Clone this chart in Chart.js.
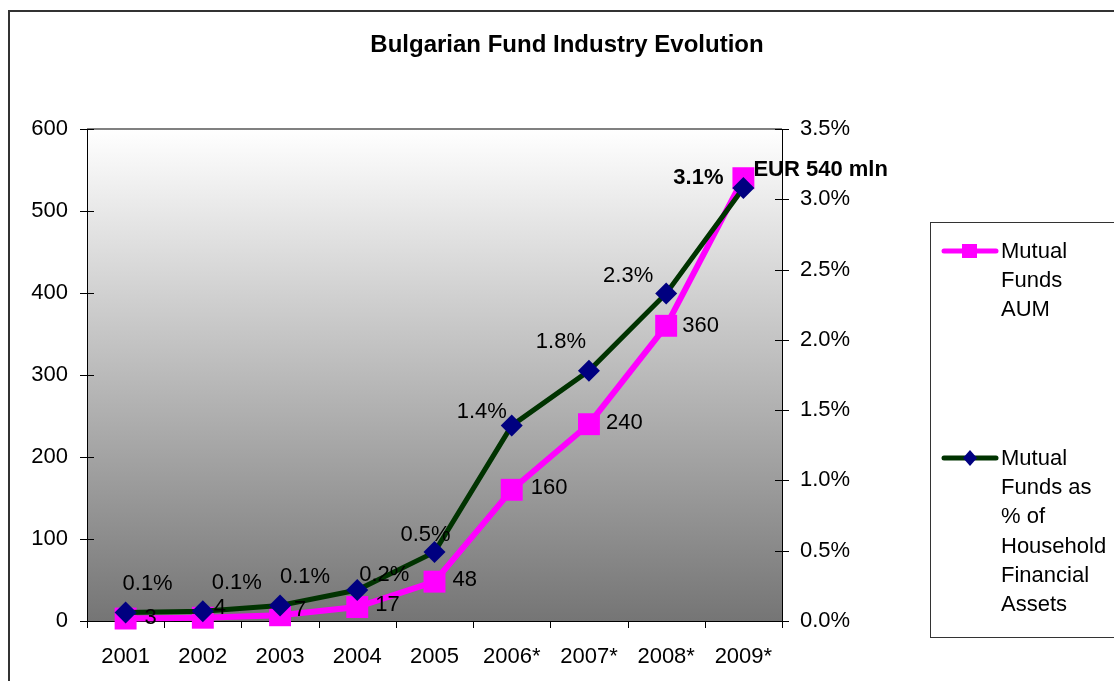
<!DOCTYPE html>
<html>
<head>
<meta charset="utf-8">
<script src="https://cdn.jsdelivr.net/npm/chart.js@4"></script>
<style>
  body { margin: 0; background: #fff; }
</style>
</head>
<body>
<canvas id="chart" width="1114" height="681"></canvas>
<script>
// Datos del gráfico
const years = ['2001', '2002', '2003', '2004', '2005', '2006*', '2007*', '2008*', '2009*'];
const aum = [3, 4, 7, 17, 48, 160, 240, 360, 540];            // EUR mln
const pctHousehold = [0.06, 0.07, 0.11, 0.22, 0.49, 1.39, 1.78, 2.33, 3.08]; // %
const aumLabels = ['3', '4', '7', '17', '48', '160', '240', '360', 'EUR 540 mln'];
const leftTicks = [0, 100, 200, 300, 400, 500, 600];
const rightTicks = [0, 0.5, 1, 1.5, 2, 2.5, 3, 3.5];

// desplazamiento de etiquetas (como Excel las coloca)
const pctDx = [22, 34, 25, 27, -9, -30, -28, -38, -45];
const pctDy = [-29, -28, -29, -15, -17, -14, -29, -18, -10];
const aumDx = [19, 11, 14, 18, 18, 19, 17, 16, 10];
const aumDy = [-1, -10, -5, -2, -2, -2, -1, 0, -8];

const FONT = "'Liberation Sans', Arial, sans-serif";
const PINK = '#ff00ff';
const GREEN = '#003300';
const NAVY = '#000080';

Chart.defaults.font.family = FONT;
Chart.defaults.font.size = 22;
Chart.defaults.color = '#000';

const decor = {
  id: 'decor',
  beforeDraw(chart) {
    const { ctx, chartArea: a } = chart;
    ctx.save();
    ctx.fillStyle = '#fff';
    ctx.fillRect(0, 0, chart.width, chart.height);
    const g = ctx.createLinearGradient(0, a.top, 0, a.bottom);
    g.addColorStop(0, '#ffffff');
    g.addColorStop(1, '#757575');
    ctx.fillStyle = g;
    ctx.fillRect(a.left, a.top, a.right - a.left, a.bottom - a.top);
    // marco exterior
    ctx.strokeStyle = '#333';
    ctx.lineWidth = 2;
    ctx.strokeRect(9, 11, chart.width + 20, chart.height + 20);
    ctx.restore();
  },
  afterDraw(chart) {
    const { ctx, chartArea: a, scales } = chart;
    ctx.save();
    // borde superior del área
    ctx.strokeStyle = '#808080';
    ctx.lineWidth = 2;
    ctx.beginPath();
    ctx.moveTo(a.left, a.top);
    ctx.lineTo(a.right, a.top);
    ctx.stroke();

    // marcas de los ejes
    ctx.strokeStyle = '#000';
    ctx.lineWidth = 1;
    ctx.beginPath();
    leftTicks.forEach(v => {
      const y = Math.round(scales.y.getPixelForValue(v)) + 0.5;
      ctx.moveTo(a.left - 7, y); ctx.lineTo(a.left + 7, y);
    });
    rightTicks.forEach(v => {
      const y = Math.round(scales.y2.getPixelForValue(v)) + 0.5;
      ctx.moveTo(a.right - 7, y); ctx.lineTo(a.right + 7, y);
    });
    const step = scales.x.getPixelForValue(1) - scales.x.getPixelForValue(0);
    for (let i = 0; i <= years.length; i++) {
      const x = Math.round(scales.x.getPixelForValue(i) - step / 2) + 0.5;
      ctx.moveTo(x, a.bottom); ctx.lineTo(x, a.bottom + 7);
    }
    ctx.stroke();

    // título
    ctx.fillStyle = '#000';
    ctx.font = 'bold 24px ' + FONT;
    ctx.textAlign = 'center';
    ctx.textBaseline = 'middle';
    ctx.fillText('Bulgarian Fund Industry Evolution', 567, 45);

    // leyenda
    ctx.strokeStyle = '#333';
    ctx.lineWidth = 1;
    ctx.strokeRect(930.5, 222.5, 300, 415);
    ctx.font = '22px ' + FONT;
    ctx.textAlign = 'left';
    const entries = [
      { y: 251, color: PINK, marker: 'rect', lines: ['Mutual', 'Funds', 'AUM'] },
      { y: 458, color: GREEN, marker: 'diamond', lines: ['Mutual', 'Funds as', '% of', 'Household', 'Financial', 'Assets'] }
    ];
    entries.forEach(e => {
      ctx.strokeStyle = e.color;
      ctx.lineWidth = 5;
      ctx.lineCap = 'round';
      ctx.beginPath();
      ctx.moveTo(944, e.y); ctx.lineTo(996, e.y);
      ctx.stroke();
      if (e.marker === 'rect') {
        ctx.fillStyle = PINK;
        ctx.fillRect(962, e.y - 7, 15, 14);
      } else {
        ctx.fillStyle = NAVY;
        ctx.beginPath();
        ctx.moveTo(970, e.y - 8); ctx.lineTo(977, e.y);
        ctx.lineTo(970, e.y + 8); ctx.lineTo(963, e.y);
        ctx.closePath(); ctx.fill();
      }
      ctx.fillStyle = '#000';
      e.lines.forEach((t, i) => ctx.fillText(t, 1001, e.y + 1 + i * 29.2));
    });
    ctx.restore();
  },
  afterDatasetsDraw(chart) {
    const { ctx } = chart;
    const pink = chart.getDatasetMeta(0).data;
    const green = chart.getDatasetMeta(1).data;
    ctx.save();
    ctx.fillStyle = '#000';
    ctx.textBaseline = 'middle';
    const last = years.length - 1;
    ctx.textAlign = 'left';
    pink.forEach((p, i) => {
      ctx.font = (i === last ? 'bold ' : '') + '22px ' + FONT;
      ctx.fillText(aumLabels[i], p.x + aumDx[i], p.y + aumDy[i]);
    });
    ctx.textAlign = 'center';
    green.forEach((p, i) => {
      ctx.font = (i === last ? 'bold ' : '') + '22px ' + FONT;
      ctx.fillText(pctHousehold[i].toFixed(1) + '%', p.x + pctDx[i], p.y + pctDy[i]);
    });
    ctx.restore();
  }
};

const ctx = document.getElementById('chart').getContext('2d');
new Chart(ctx, {
  type: 'line',
  data: {
    labels: years,
    datasets: [{
      label: 'Mutual Funds AUM',
      data: aum,
      yAxisID: 'y',
      borderColor: PINK,
      backgroundColor: PINK,
      borderWidth: 6,
      pointStyle: 'rect',
      pointRadius: 15.5,
      pointBorderWidth: 0,
      pointBackgroundColor: PINK,
      tension: 0,
      order: 2,
      clip: false
    }, {
      label: 'Mutual Funds as % of Household Financial Assets',
      data: pctHousehold,
      yAxisID: 'y2',
      borderColor: GREEN,
      backgroundColor: NAVY,
      borderWidth: 5,
      pointStyle: 'rectRot',
      pointRadius: 11,
      pointBorderWidth: 0,
      pointBackgroundColor: NAVY,
      tension: 0,
      order: 1,
      clip: false
    }]
  },
  options: {
    responsive: false,
    animation: false,
    events: [],
    layout: { padding: { top: 129, left: 0, right: 0, bottom: 0 } },
    plugins: { legend: { display: false }, title: { display: false }, tooltip: { enabled: false } },
    scales: {
      x: {
        offset: true,
        grid: { display: false, drawTicks: false },
        border: { display: true, color: '#000', width: 1 },
        ticks: { autoSkip: false, maxRotation: 0, padding: 23 },
        afterFit: s => { s.height = 60; }
      },
      y: {
        position: 'left',
        min: 0, max: 600,
        grid: { display: false, drawTicks: false },
        border: { display: true, color: '#000', width: 1 },
        ticks: { stepSize: 100, padding: 19 },
        afterFit: s => { s.width = 87; }
      },
      y2: {
        position: 'right',
        min: 0, max: 3.5,
        grid: { display: false, drawTicks: false },
        border: { display: true, color: '#000', width: 1 },
        ticks: { stepSize: 0.5, padding: 18, callback: v => v.toFixed(1) + '%' },
        afterFit: s => { s.width = 332; }
      }
    }
  },
  plugins: [decor]
});
</script>
</body>
</html>
